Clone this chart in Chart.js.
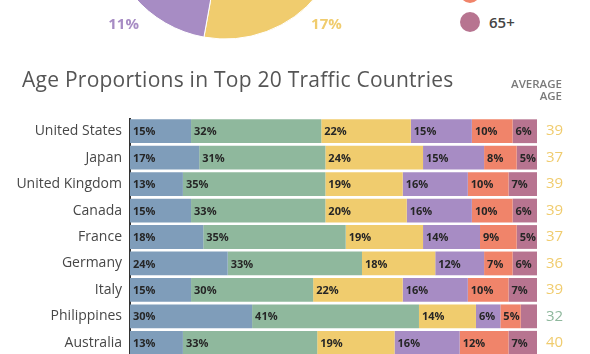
<!DOCTYPE html>
<html>
<head>
<meta charset="utf-8">
<script src="https://cdn.jsdelivr.net/npm/chart.js@4.4.1/dist/chart.umd.min.js"></script>
<style>
html,body{margin:0;padding:0;background:#fff;}
body{width:590px;height:354px;overflow:hidden;position:relative;font-family:"Open Sans",sans-serif;}
#pieWrap{position:absolute;left:75px;top:-230px;width:300px;height:300px;}
#barWrap{position:absolute;left:0;top:118px;width:590px;height:238px;}
#title{position:absolute;left:22px;top:69px;font-family:"Open Sans",sans-serif;font-size:21px;line-height:21px;letter-spacing:0.25px;color:#555;white-space:nowrap;}
#avg{position:absolute;right:28px;top:78px;text-align:right;font-family:"Open Sans",sans-serif;font-weight:600;font-size:11.5px;line-height:12px;color:#7a7a7a;}
#legend{position:absolute;left:460px;top:0;width:130px;height:60px;}
.li{position:absolute;left:0;height:20px;white-space:nowrap;}
.dot{position:absolute;left:0;top:0;width:20px;height:20px;border-radius:50%;}
.lt{position:absolute;left:29px;top:0;line-height:20px;font-family:"Open Sans",sans-serif;font-weight:600;font-size:15px;color:#444;}
</style>
</head>
<body>
<div id="pieWrap"><canvas id="pie" width="300" height="300"></canvas></div>
<div id="legend"></div>
<div id="title">Age Proportions in Top 20 Traffic Countries</div>
<div id="avg">AVERAGE<br>AGE</div>
<div id="barWrap"><canvas id="bar" width="590" height="238"></canvas></div>
<script>
// ---- data ----
const ageGroups = ["18-24", "25-34", "35-44", "45-54", "55-64", "65+"];
const groupColors = ["#7f9dba", "#8fb89d", "#f0cc6e", "#a78cc4", "#f0846a", "#b77490"];
const overallShare = [18, 32, 17, 11, 12, 10];   // pie (only 17% and 11% visible)
const countries = ["United States", "Japan", "United Kingdom", "Canada", "France", "Germany", "Italy", "Philippines", "Australia"];
const share18to24 = [15, 17, 13, 15, 18, 24, 15, 30, 13];
const share25to34 = [32, 31, 35, 33, 35, 33, 30, 41, 33];
const share35to44 = [22, 24, 19, 20, 19, 18, 22, 14, 19];
const share45to54 = [15, 15, 16, 16, 14, 12, 16, 6, 16];
const share55to64 = [10, 8, 10, 10, 9, 7, 10, 5, 12];
const share65plus = [6, 5, 7, 6, 5, 6, 7, 4, 7];
const averageAge = [39, 37, 39, 39, 37, 36, 39, 32, 40];

const series = [share18to24, share25to34, share35to44, share45to54, share55to64, share65plus];

function groupIndexForAge(a) {
  for (let i = 0; i < ageGroups.length; i++) {
    const g = ageGroups[i];
    const lo = parseInt(g, 10);
    const hi = g.indexOf('-') >= 0 ? parseInt(g.split('-')[1], 10) : 200;
    if (a >= lo && a <= hi) return i;
  }
  return 0;
}

// ---- legend ----
const legendEl = document.getElementById('legend');
ageGroups.forEach((g, i) => {
  const item = document.createElement('div');
  item.className = 'li';
  item.style.top = (11.5 - (ageGroups.length - 1 - i) * 29) + 'px';
  const dot = document.createElement('div');
  dot.className = 'dot';
  dot.style.background = groupColors[i];
  const t = document.createElement('div');
  t.className = 'lt';
  t.textContent = g;
  item.appendChild(dot); item.appendChild(t);
  legendEl.appendChild(item);
});

// ---- pie ----
const pieLabels = {
  id: 'pieLabels',
  afterDatasetsDraw(chart, args, opts) {
    const ctx = chart.ctx;
    const meta = chart.getDatasetMeta(0);
    const ds = chart.data.datasets[0];
    ctx.save();
    ctx.font = 'bold 15px "Open Sans"';
    ctx.textAlign = 'center';
    ctx.textBaseline = 'middle';
    meta.data.forEach((arc, i) => {
      let a;
      if (opts.angles && opts.angles[i] !== undefined) a = (opts.angles[i] - 90) * Math.PI / 180;
      else a = (arc.startAngle + arc.endAngle) / 2;
      const x = arc.x + Math.cos(a) * opts.distance;
      const y = arc.y + Math.sin(a) * opts.distance;
      ctx.fillStyle = ds.backgroundColor[i];
      ctx.fillText(ds.data[i] + '%', x, y);
    });
    ctx.restore();
  }
};

new Chart(document.getElementById('pie'), {
  type: 'pie',
  data: {
    labels: ageGroups,
    datasets: [{ data: overallShare, backgroundColor: groupColors, borderColor: '#ffffff', borderWidth: 1 }]
  },
  options: {
    responsive: false,
    animation: false,
    rotation: -51,
    radius: 119,
    layout: { padding: 0 },
    plugins: {
      legend: { display: false },
      tooltip: { enabled: false },
      pieLabels: { distance: 146, angles: { 2: 136, 3: 224 } }
    }
  },
  plugins: [pieLabels]
});

// ---- stacked bars ----
const segLabels = {
  id: 'segLabels',
  afterDatasetsDraw(chart) {
    const ctx = chart.ctx;
    ctx.save();
    ctx.font = 'bold 11px "Open Sans"';
    ctx.fillStyle = '#262626';
    ctx.textAlign = 'left';
    ctx.textBaseline = 'middle';
    chart.data.datasets.forEach((ds, di) => {
      chart.getDatasetMeta(di).data.forEach((bar, i) => {
        const v = ds.data[i];
        if (v < 5) return;
        const left = Math.min(bar.x, bar.base);
        ctx.fillText(v + '%', left + 3, bar.y + 1);
      });
    });
    ctx.restore();
  }
};

function noPad(width) {
  return function (s) { s.width = width; s.paddingTop = 0; s.paddingBottom = 0; };
}

new Chart(document.getElementById('bar'), {
  type: 'bar',
  data: {
    labels: countries,
    datasets: series.map((d, i) => ({
      label: ageGroups[i],
      data: d,
      backgroundColor: groupColors[i],
      borderWidth: 0,
      barPercentage: 0.9,
      categoryPercentage: 1
    }))
  },
  options: {
    indexAxis: 'y',
    responsive: false,
    animation: false,
    layout: { padding: 0 },
    scales: {
      x: { stacked: true, min: 0, max: 100, display: false },
      y: {
        stacked: true,
        z: 1,
        grid: { display: false, drawTicks: false },
        border: { display: true, color: '#333333', width: 2 },
        ticks: { color: '#474747', font: { family: 'Open Sans', size: 14 }, padding: 8 },
        afterFit: noPad(130)
      },
      y2: {
        type: 'category',
        labels: averageAge.map(String),
        position: 'right',
        grid: { display: false, drawTicks: false },
        border: { display: false },
        ticks: {
          color: (c) => groupColors[groupIndexForAge(averageAge[c.index])],
          font: { family: 'Open Sans', size: 15 },
          padding: 9
        },
        afterFit: noPad(53)
      }
    },
    plugins: { legend: { display: false }, tooltip: { enabled: false } }
  },
  plugins: [segLabels]
});
</script>
</body>
</html>
